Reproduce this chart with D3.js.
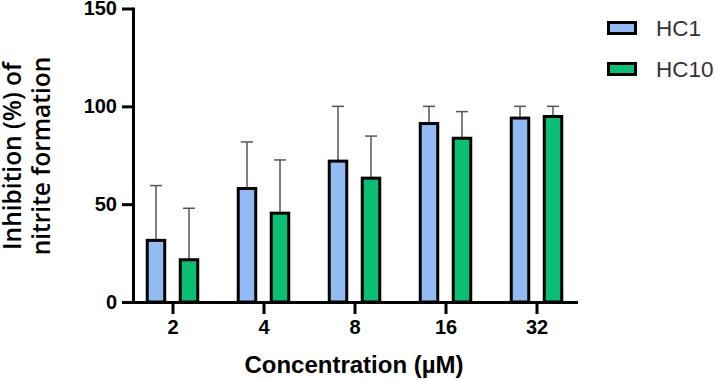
<!DOCTYPE html>
<html>
<head>
<meta charset="utf-8">
<script src="https://cdn.jsdelivr.net/npm/d3@7"></script>
<style>
  body { margin: 0; background: #fff; }
  svg { display: block; }
</style>
</head>
<body>
<div id="chart"></div>
<script>
// Data
const concentrations = ["2", "4", "8", "16", "32"];
const seriesNames = ["HC1", "HC10"];
const hc1Values = [31.5, 58, 72, 91.2, 94];
const hc1Errors = [28, 23.8, 28, 8.8, 6];
const hc10Values = [21.6, 45.4, 63.3, 83.7, 94.8];
const hc10Errors = [26.3, 27.2, 21.5, 13.6, 5.2];
const yTicks = [0, 50, 100, 150];
const colors = { HC1: "#93bbf3", HC10: "#0abf73" };

const width = 715, height = 380;

const svg = d3.select("#chart").append("svg")
    .attr("width", width)
    .attr("height", height);

// Scales
const x = d3.scalePoint()
    .domain(concentrations)
    .range([133, 576])
    .padding(0.434);

const xSub = d3.scalePoint()
    .domain(seriesNames)
    .range([-16.5, 16.5]);

const y = d3.scaleLinear()
    .domain([0, 150])
    .range([302, 8.5]);

// Build rows for drawing
const rows = [];
concentrations.forEach((c, i) => {
    rows.push({ conc: c, name: "HC1", value: hc1Values[i], err: hc1Errors[i] });
    rows.push({ conc: c, name: "HC10", value: hc10Values[i], err: hc10Errors[i] });
});

const barW = 17.5;
const capW = 12;

// Error bars (behind the bars)
const errG = svg.append("g");
errG.selectAll("line.stem")
    .data(rows)
    .enter()
    .append("line")
    .attr("class", "stem")
    .attr("x1", d => x(d.conc) + xSub(d.name))
    .attr("x2", d => x(d.conc) + xSub(d.name))
    .attr("y1", d => y(d.value))
    .attr("y2", d => y(d.value + d.err))
    .attr("stroke", "#555")
    .attr("stroke-width", 1.5);

errG.selectAll("line.cap")
    .data(rows)
    .enter()
    .append("line")
    .attr("class", "cap")
    .attr("x1", d => x(d.conc) + xSub(d.name) - capW / 2)
    .attr("x2", d => x(d.conc) + xSub(d.name) + capW / 2)
    .attr("y1", d => y(d.value + d.err))
    .attr("y2", d => y(d.value + d.err))
    .attr("stroke", "#555")
    .attr("stroke-width", 1.5);

// Bars
svg.append("g").selectAll("rect")
    .data(rows)
    .enter()
    .append("rect")
    .attr("x", d => x(d.conc) + xSub(d.name) - barW / 2)
    .attr("y", d => y(d.value))
    .attr("width", barW)
    .attr("height", d => y(0) - y(d.value))
    .attr("fill", d => colors[d.name])
    .attr("stroke", "#000")
    .attr("stroke-width", 3);

// Axes
const yAxis = svg.append("g")
    .attr("transform", "translate(133,0)")
    .call(d3.axisLeft(y).tickValues(yTicks).tickSize(11).tickSizeOuter(0).tickPadding(5));

const xAxis = svg.append("g")
    .attr("transform", "translate(0,302)")
    .call(d3.axisBottom(x).tickSize(12).tickSizeOuter(0).tickPadding(6));

[yAxis, xAxis].forEach(a => {
    a.select(".domain").attr("stroke", "#000").attr("stroke-width", 3).attr("stroke-linecap", "square");
    a.selectAll(".tick line").attr("stroke", "#000").attr("stroke-width", 3);
    a.selectAll(".tick text")
        .attr("fill", "#000")
        .style("font-family", "Arial, 'Liberation Sans', sans-serif")
        .style("font-weight", "bold")
        .style("font-size", "20px");
});

// Axis titles
svg.append("text")
    .attr("x", 354)
    .attr("y", 373)
    .attr("text-anchor", "middle")
    .style("font-family", "Arial, 'Liberation Sans', sans-serif")
    .style("font-weight", "bold")
    .style("font-size", "24px")
    .text("Concentration (µM)");

const yTitle = svg.append("text")
    .attr("transform", "translate(0,156) rotate(-90)")
    .attr("text-anchor", "middle")
    .style("font-family", "'Open Sans', 'Noto Sans', sans-serif")
    .style("font-weight", "600")
    .style("font-size", "24.5px");
yTitle.append("tspan").attr("x", 0).attr("y", 21).text("Inhibition (%) of");
yTitle.append("tspan").attr("x", 0).attr("y", 50).text("nitrite formation");

// Legend
const legend = svg.append("g");
seriesNames.forEach((name, i) => {
    const ly = 28 + i * 41;
    legend.append("rect")
        .attr("x", 608.5)
        .attr("y", ly - 5.5)
        .attr("width", 27)
        .attr("height", 11)
        .attr("fill", colors[name])
        .attr("stroke", "#000")
        .attr("stroke-width", 3);
    legend.append("text")
        .attr("x", 656)
        .attr("y", ly)
        .attr("dominant-baseline", "central")
        .attr("fill", "#333")
        .style("font-family", "Arial, 'Liberation Sans', sans-serif")
        .style("font-size", "22.5px")
        .text(name);
});
</script>
</body>
</html>
